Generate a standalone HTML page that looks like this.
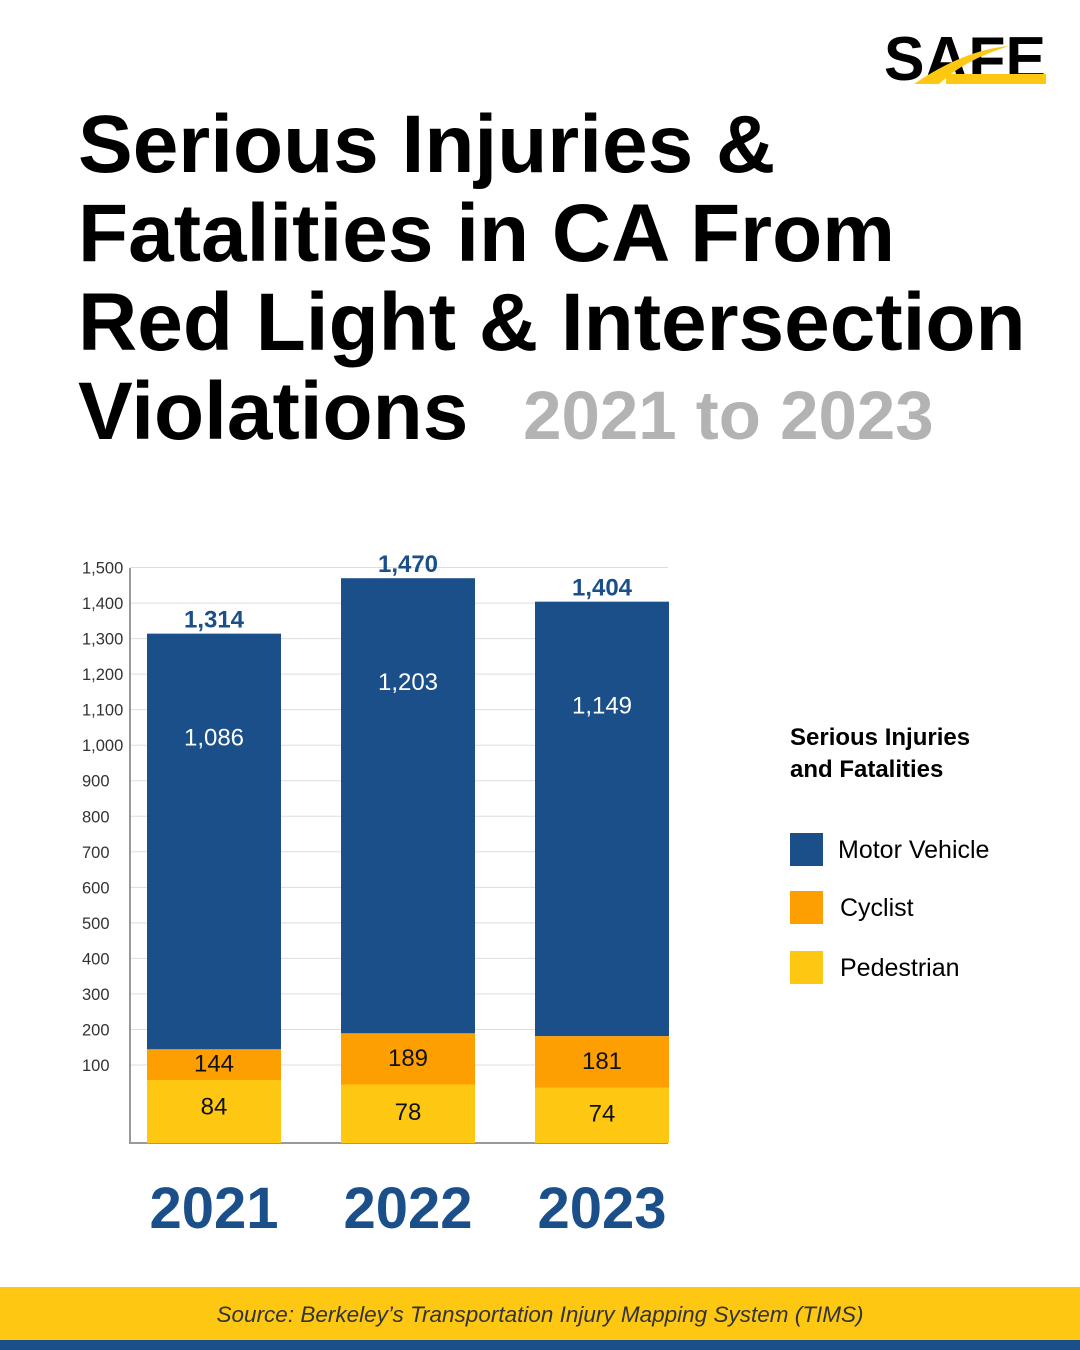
<!DOCTYPE html>
<html><head><meta charset="utf-8"><style>
body{margin:0;width:1080px;height:1350px;background:#fff;position:relative;overflow:hidden;font-family:"Liberation Sans",sans-serif}
.abs{position:absolute}
</style></head><body>
<div class="abs" style="left:884px;top:28px;width:165px;height:58px">
<svg width="165" height="58"><text x="0" y="52" font-family="Liberation Sans" font-weight="bold" font-size="62" fill="#000" textLength="162" lengthAdjust="spacingAndGlyphs">SAFE</text>
<path d="M30 56 Q80 22 125 18 Q80 32 55 56Z" fill="#fdc712"/><rect x="62" y="46" width="100" height="10" fill="#fdc712"/></svg></div>
<div class="abs" style="left:78px;top:100px;font-size:82px;font-weight:bold;line-height:89px;color:#000;letter-spacing:0px;width:1010px;white-space:nowrap">Serious Injuries &amp;<br>Fatalities in CA From<br>Red Light &amp; Intersection<br>Violations <span style="color:#b3b3b3;font-size:69px;margin-left:32px">2021 to 2023</span></div>
<svg class="abs" style="left:0;top:0" width="1080" height="1350" id="chart"></svg>
<div class="abs" style="left:790px;top:722px;font-size:24px;font-weight:bold;line-height:32px">Serious Injuries<br>and Fatalities</div>
<div class="abs" style="left:790px;top:833px"><div style="position:absolute;width:33px;height:33px;background:#1a4f8a"></div><span style="position:absolute;left:48px;top:3px;font-size:25px;white-space:nowrap">Motor Vehicle</span></div>
<div class="abs" style="left:790px;top:891px"><div style="position:absolute;width:33px;height:33px;background:#fd9f00"></div><span style="position:absolute;left:50px;top:3px;font-size:25px">Cyclist</span></div>
<div class="abs" style="left:790px;top:951px"><div style="position:absolute;width:33px;height:33px;background:#fdc712"></div><span style="position:absolute;left:50px;top:3px;font-size:25px">Pedestrian</span></div>
<div class="abs" style="left:0;top:1287px;width:1080px;height:53px;background:#fdc712;text-align:center;line-height:55px;font-size:22.5px;font-style:italic;color:#333">Source: Berkeley’s Transportation Injury Mapping System (TIMS)</div>
<div class="abs" style="left:0;top:1340px;width:1080px;height:10px;background:#1a4f8a"></div>
<script>
const years=["2021","2022","2023"];
const totals=[1314,1470,1404];
const motor=[1086,1203,1149];
const cyclist=[144,189,181];
const pedestrian=[84,78,74];
const ticks=[100,200,300,400,500,600,700,800,900,1000,1100,1200,1300,1400,1500];
const ns="http://www.w3.org/2000/svg",svg=document.getElementById('chart');
const y=v=>1100.5-v*0.3553, base=1143, x0=147, step=194, bw=134;
function mk(t,a,txt){const e=document.createElementNS(ns,t);for(const k in a)e.setAttribute(k,a[k]);if(txt!=null)e.textContent=txt;svg.appendChild(e);return e;}
ticks.forEach(t=>{
const g=mk('line',{x1:130,x2:668,y1:y(t),y2:y(t),stroke:'#ddd','stroke-width':1});


const l=mk('text',{x:82,y:y(t)+6,'font-size':16.5,fill:'#333','font-family':'Liberation Sans'},t.toLocaleString('en-US'));


});
const ax=mk('path',{d:`M130 568V${base}H668`,fill:'none',stroke:'#999','stroke-width':2});


years.forEach((yr,i)=>{
const x=x0+i*step;
const pt=base-pedestrian[i]*0.75, ct=y(cyclist[i]), mt=y(totals[i]);
const segs=[[mt,ct,'#1a4f8a','bar-motor'],[ct,pt,'#fd9f00','bar-cyclist'],[pt,base,'#fdc712','bar-pedestrian']];
segs.forEach(s=>{const r=mk('rect',{x:x,y:s[0],width:bw,height:s[1]-s[0],fill:s[2]});

});
const cx=x+bw/2;
const lbl=[[mt-6,totals[i].toLocaleString('en-US'),'#1a4f8a','bold',24,'total-label'],
[mt+112,motor[i].toLocaleString('en-US'),'#fff','normal',24,'motor-label'],
[(ct+pt)/2+7,cyclist[i],'#111','normal',24,'cyclist-label'],
[(pt+base)/2+(i==0?-6:-3)+9,pedestrian[i],'#111','normal',24,'pedestrian-label'],
[1228,yr,'#1a4f8a','bold',58,'x-year-label']];
lbl.forEach(L=>{const t=mk('text',{x:cx,y:L[0],'text-anchor':'middle',fill:L[2],'font-weight':L[3],'font-size':L[4],'font-family':'Liberation Sans'},L[1]);

});
});
</script>
</body></html>
